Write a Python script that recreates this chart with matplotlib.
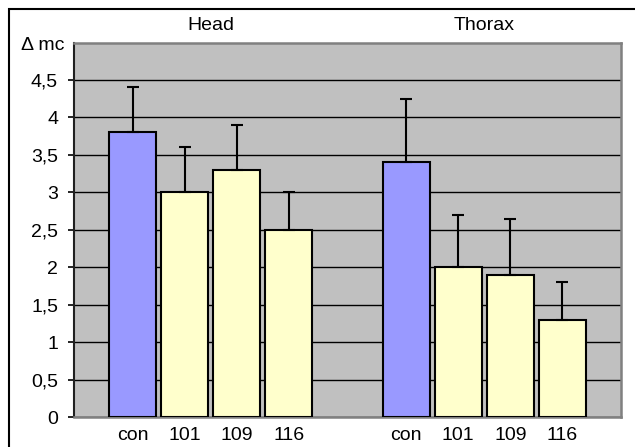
#!/usr/bin/python3

import matplotlib
matplotlib.use("Agg")
import matplotlib.pyplot as plt
import numpy as np
from matplotlib.patches import Rectangle

plt.rcParams['font.family'] = ['Liberation Sans', 'DejaVu Sans']

groups = ["Head", "Thorax"]
series = ["con", "101", "109", "116"]
# bar heights per series, [Head, Thorax]
means = {
    "con": [3.8, 3.4],
    "101": [3.0, 2.0],
    "109": [3.3, 1.9],
    "116": [2.5, 1.3],
}
# upper error (top of whisker minus bar)
errors = {
    "con": [0.6, 0.85],
    "101": [0.6, 0.7],
    "109": [0.6, 0.75],
    "116": [0.5, 0.5],
}
colors = {"con": "#9999FF", "101": "#FFFFCC", "109": "#FFFFCC", "116": "#FFFFCC"}
yticks = [0, 0.5, 1, 1.5, 2, 2.5, 3, 3.5, 4, 4.5]
ytick_labels = ["0", "0,5", "1", "1,5", "2", "2,5", "3", "3,5", "4", "4,5"]

FS = 14
W, H = 635, 447
fig = plt.figure(figsize=(W / 100, H / 100), dpi=100)
ax = fig.add_axes([74 / W, 1 - 417 / H, (621 - 74) / W, (417 - 42.5) / H])

step = 52 / 273.0
width = 47 / 273.0
index = np.arange(len(groups))
xpos = []
xlab = []
for i, s in enumerate(series):
    off = (i - 1.5) * step
    x = index + off
    ax.bar(x, means[s], width=width, color=colors[s], edgecolor='black',
           linewidth=1.5, zorder=3)
    ax.errorbar(x, means[s], yerr=[[0, 0], errors[s]], fmt='none',
                ecolor='black', elinewidth=1.5, capsize=4.5, capthick=1.5,
                zorder=4)
    xpos.extend(list(x))
    xlab.extend([s, s])

ax.set_xlim(-0.5, 1.5)
ax.set_ylim(0, 5)
ax.set_facecolor('#C0C0C0')
ax.set_axisbelow(True)
ax.grid(True, axis='y', color='black', linewidth=1.0, zorder=1)

ax.set_yticks(yticks)
ax.set_yticklabels(ytick_labels, fontsize=FS)
ax.tick_params(axis='y', direction='out', length=4.5, width=1.2, color='black', pad=7)

ax.set_xticks(xpos)
ax.set_xticklabels(xlab, fontsize=FS)
ax.tick_params(axis='x', length=0, pad=7)

for side in ['top', 'right', 'bottom']:
    ax.spines[side].set_color('#808080')
    ax.spines[side].set_linewidth(1.8)
ax.spines['left'].set_color('#202020')
ax.spines['left'].set_linewidth(1.5)

for i, g in enumerate(groups):
    ax.text(index[i], 5.23, g, ha='center', va='center', fontsize=FS)

fig.text(64 / W, 1 - 45 / H, "Δ mc", ha='right', va='center', fontsize=FS)

# outer chart border
fig.patches.append(Rectangle((9 / W, -0.1), 1.2, 1 - 9 / H + 0.1, transform=fig.transFigure,
                             fill=False, edgecolor='black', linewidth=1.5))

fig.savefig("out.png", dpi=100)
